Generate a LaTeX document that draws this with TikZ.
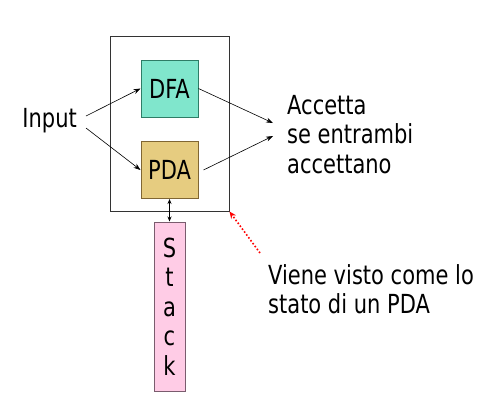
\documentclass[tikz,border=0pt]{standalone}
\usepackage{fontspec}
\usepackage{graphicx}
\setmainfont{DejaVu Sans}
\usetikzlibrary{arrows.meta}
\definecolor{dfafill}{HTML}{80E6CC}
\definecolor{dfaline}{HTML}{2E7D66}
\definecolor{pdafill}{HTML}{E6CC80}
\definecolor{pdaline}{HTML}{806633}
\definecolor{stackfill}{HTML}{FFCCE6}
\definecolor{stackline}{HTML}{7A5C6E}
\newcommand{\tall}[1]{\scalebox{1}[1.25]{#1}}
\begin{document}
\begin{tikzpicture}[x=1pt, y=-1pt,
    box/.style={draw, line width=1pt, minimum width=57pt, minimum height=57pt, inner sep=0pt},
    txt/.style={inner sep=0pt, font=\fontsize{21}{29.5}\selectfont},
    link/.style={-{Stealth[length=7pt, width=5pt]}, line width=0.6pt}]
    \useasboundingbox (0,0) rectangle (502,405);

    % Draw the outer box
    \node[draw=black!80, line width=1pt, minimum width=119pt, minimum height=175pt] (outer) at (169.5, 123.5) {};

    % Draw the two automata
    \node[box, draw=dfaline, fill=dfafill, txt] (dfa) at (169.5, 88.5) {\tall{DFA}};
    \node[box, draw=pdaline, fill=pdafill, txt] (pda) at (169.5, 170) {\tall{PDA}};

    % Draw the stack
    \node[draw=stackline, fill=stackfill, line width=1pt, minimum width=31pt, minimum height=169pt,
          txt, align=center] (stack) at (169.5, 306.5) {\tall{S}\\\tall{t}\\\tall{a}\\\tall{c}\\\tall{k}};

    % Draw the texts
    \node[txt, anchor=east] (input) at (77, 121) {\tall{Input}};
    \node[txt, anchor=north west, align=left] (accetta) at (287, 95)
        {\tall{Accetta}\\\tall{se entrambi}\\\tall{accettano}};
    \node[txt, anchor=north west, align=left] (viene) at (268, 264)
        {\tall{Viene visto come lo}\\\tall{stato di un PDA}};

    % Free ends of the arrows
    \coordinate (in1) at (86, 116);
    \coordinate (in2) at (86, 128);
    \coordinate (acc1) at (273, 123);
    \coordinate (acc2) at (273, 136);
    \coordinate (note) at (260, 253);

    % Draw the arrows
    \draw[link] (in1) -- (dfa.west);
    \draw[link] (in2) -- (pda.west);
    \draw[link] (dfa.east) -- (acc1);
    \draw[link] ([xshift=5pt]pda.east) -- (acc2);
    \draw[{Stealth[length=5pt, width=4pt]}-{Stealth[length=5pt, width=4pt]}, line width=0.6pt] (pda.south) -- (stack.north);

    % Point at the outer box
    \draw[red, dotted, line width=1.6pt, -{Stealth[length=7pt, width=6pt]}] (note) -- (outer.south east);
\end{tikzpicture}
\end{document}
